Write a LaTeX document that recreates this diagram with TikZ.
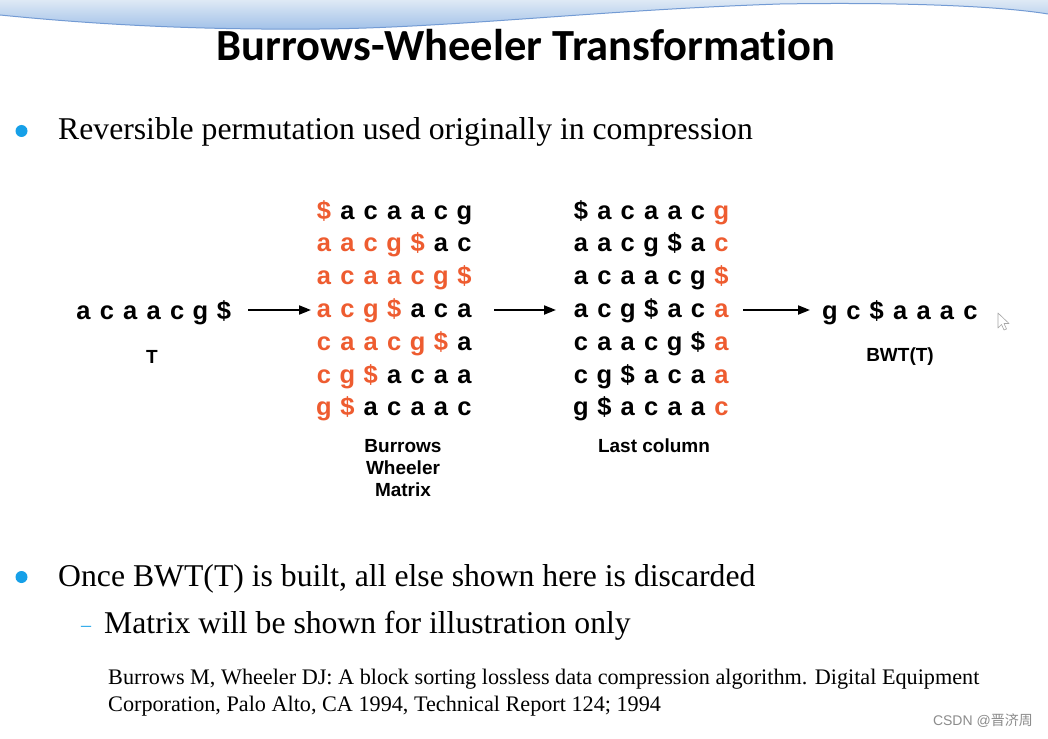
\documentclass[tikz,border=0pt]{standalone}
\usepackage{fontspec}
\setmainfont{Liberation Serif}
\newfontfamily\titlefont[Ligatures=NoCommon]{Carlito}
\newfontfamily\arialfont{Liberation Sans}
\newfontfamily\cjk{Noto Sans CJK SC}
\usetikzlibrary{arrows.meta}
\definecolor{bwtorange}{RGB}{238,92,48}
\definecolor{bullblue}{RGB}{22,160,232}
\definecolor{headtop}{RGB}{222,233,245}
\definecolor{headbot}{RGB}{160,192,232}
\definecolor{headline}{RGB}{115,155,212}
\newcommand\symch[1]{\if#1d\$\else#1\fi}
% #1 name, #2 x0, #3 baseline y, #4 list, #5 first orange, #6 last orange
\newcommand\bwtrow[6]{%
  \foreach \c [count=\j] in {#4} {%
    \ifnum\j<#5 \def\col{black}\else\ifnum\j>#6 \def\col{black}\else\def\col{bwtorange}\fi\fi
    \node[ch,text=\col] (#1-\j) at ({#2+(\j-1)*23.4},#3) {\symch{\c}};
  }%
}
\tikzset{
  ch/.style={font=\arialfont\bfseries\fontsize{25.5}{25.5}\selectfont, inner sep=0pt, anchor=base},
  lab/.style={font=\arialfont\bfseries\fontsize{19}{22}\selectfont, inner sep=0pt, align=center},
  body/.style={font=\fontsize{31.7}{36}\selectfont, inner sep=0pt, anchor=base west},
  ref/.style={font=\fontsize{22.2}{27}\selectfont, inner sep=0pt, anchor=base west},
  bul/.style={circle, fill=bullblue, minimum size=12pt, inner sep=0pt},
  arr/.style={-{Triangle[length=12pt,width=9pt]}, line width=2pt},
}
\begin{document}
\begin{tikzpicture}[x=1pt,y=-1pt]
\useasboundingbox (0,0) rectangle (1048,738);
\fill[white] (0,0) rectangle (1048,738);
% header wave
\shade[top color=headtop, bottom color=headbot]
  (0,0) -- (1048,0) -- (1048,14)
  .. controls (1000,6) and (900,2) .. (780,4)
  .. controls (600,10) and (450,28) .. (320,29)
  .. controls (200,30) and (100,25) .. (0,15) -- cycle;
\draw[headline, line width=1pt]
  (1048,14)
  .. controls (1000,6) and (900,2) .. (780,4)
  .. controls (600,10) and (450,28) .. (320,29)
  .. controls (200,30) and (100,25) .. (0,15);
% title
\node[font=\titlefont\bfseries\fontsize{44.5}{50}\selectfont, inner sep=0pt, anchor=base] (title) at (526,61) {Burrows-Wheeler Transformation};
% bullet 1
\node[bul] (b1) at (21.5,131) {};
\node[body] (t1) at (58,140) {Reversible permutation used originally in compression};
% T string
\bwtrow{t}{83.5}{319}{a,c,a,a,c,g,d}{8}{7}
\node[lab] (tlab) at (152,357) {T};
% matrix 1
\bwtrow{ma1}{324}{219}{d,a,c,a,a,c,g}{1}{1}
\bwtrow{ma2}{324}{251.8}{a,a,c,g,d,a,c}{1}{5}
\bwtrow{ma3}{324}{284.6}{a,c,a,a,c,g,d}{1}{7}
\bwtrow{ma4}{324}{317.4}{a,c,g,d,a,c,a}{1}{4}
\bwtrow{ma5}{324}{350.2}{c,a,a,c,g,d,a}{1}{6}
\bwtrow{ma6}{324}{383}{c,g,d,a,c,a,a}{1}{3}
\bwtrow{ma7}{324}{415.8}{g,d,a,c,a,a,c}{1}{2}
\node[lab] (bwmlab) at (403,468) {Burrows\\Wheeler\\Matrix};
% matrix 2
\bwtrow{mb1}{581}{219}{d,a,c,a,a,c,g}{7}{7}
\bwtrow{mb2}{581}{251.8}{a,a,c,g,d,a,c}{7}{7}
\bwtrow{mb3}{581}{284.6}{a,c,a,a,c,g,d}{7}{7}
\bwtrow{mb4}{581}{317.4}{a,c,g,d,a,c,a}{7}{7}
\bwtrow{mb5}{581}{350.2}{c,a,a,c,g,d,a}{7}{7}
\bwtrow{mb6}{581}{383}{c,g,d,a,c,a,a}{7}{7}
\bwtrow{mb7}{581}{415.8}{g,d,a,c,a,a,c}{7}{7}
\node[lab] (lclab) at (654,446) {Last column};
% BWT
\bwtrow{bw}{830}{319}{g,c,d,a,a,a,c}{8}{7}
\node[lab] (bwtlab) at (900,357) {BWT(T)};
% arrows
\coordinate (a1s) at (248,310); \coordinate (a1e) at (311,310);
\coordinate (a2s) at (494,310); \coordinate (a2e) at (556,310);
\coordinate (a3s) at (743,310); \coordinate (a3e) at (810,310);
\draw[arr] (a1s) -- (a1e);
\draw[arr] (a2s) -- (a2e);
\draw[arr] (a3s) -- (a3e);
% cursor
\draw[gray!70, fill=white, line width=0.6pt, line join=round]
  (998,313) -- (998,328) -- (1001.5,324.5) -- (1004,330) -- (1006.5,329) -- (1004,323.5) -- (1009,323.5) -- cycle;
% bullet 2
\node[bul] (b2) at (21.5,577) {};
\node[body] (t2) at (58,586) {Once BWT(T) is built, all else shown here is discarded};
\node[font=\fontsize{20}{20}\selectfont, text=bullblue, inner sep=0pt, anchor=base] (d1) at (86,631) {--};
\node[body] (t3) at (104,633) {Matrix will be shown for illustration only};
% reference
\node[ref] (r1) at (108,684) {Burrows M, Wheeler DJ: A block sorting lossless data compression algorithm. Digital Equipment};
\node[ref] (r2) at (108,711) {Corporation, Palo Alto, CA 1994, Technical Report 124; 1994};
% watermark
\node[font=\fontsize{14}{14}\selectfont, text=black!45, inner sep=0pt, anchor=base east] (wm) at (1033,725) {\arialfont CSDN @\cjk 晋济周};
\end{tikzpicture}
\end{document}
